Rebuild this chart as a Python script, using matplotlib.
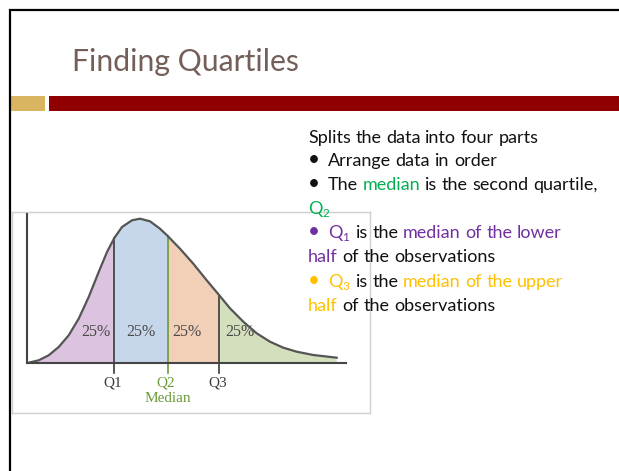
import matplotlib
matplotlib.use("Agg")
import matplotlib.pyplot as plt
from matplotlib.patches import Rectangle

# ---------------- data ----------------
curve_x = [1.7, 11.7, 21.7, 31.7, 41.7, 51.7, 61.7, 71.7, 80, 87.3, 95, 105,
           113, 123, 133, 140.7, 153, 166.3, 179.7, 192.3, 203, 216.3, 229.7,
           243, 256.3, 269.7, 286.3, 309.7]
curve_y = [0.3, 2.7, 7.7, 16, 27.7, 44.3, 66, 91, 111, 125, 136, 142.7,
           144.3, 141.7, 134.3, 127, 114.3, 99.3, 82.7, 67.7, 54.7, 41.3, 29.7,
           21.3, 15.3, 11.3, 8, 5.3]
quartile_x = [87.3, 140.7, 192.3]
quartile_labels = ["Q1", "Q2", "Q3"]
share_labels = ["25%", "25%", "25%", "25%"]
share_x = [69, 113.7, 159.7, 213]
median_label = "Median"

title = "Finding Quartiles"

W, H, DPI = 619, 471, 100
fig = plt.figure(figsize=(W / DPI, H / DPI), dpi=DPI)
fig.patch.set_facecolor("white")

# ---------------- chart ----------------
ax = fig.add_axes([12 / W, (H - 413) / H, 358 / W, 201 / H])
ax.set_zorder(1)
ax.set_xlim(-15, 343)
ax.set_ylim(-50, 151)
ax.set_xticks([])
ax.set_yticks([])
for s in ax.spines.values():
    s.set_color("#cfcfcf")
    s.set_linewidth(1.0)

fills = ["#dcc3df", "#c6d7eb", "#f2cfb7", "#d3dfbd"]
bounds = [curve_x[0]] + quartile_x + [curve_x[-1]]
for i in range(4):
    xs = [x for x in curve_x if bounds[i] <= x <= bounds[i + 1]]
    ys = [curve_y[curve_x.index(x)] for x in xs]
    ax.fill_between(xs, 0, ys, facecolor=fills[i], edgecolor="none", zorder=1)

ax.plot(curve_x, curve_y, color="#555555", lw=1.6, zorder=3,
        solid_joinstyle="round")

qcolors = ["#3a3a3a", "#6a9a3a", "#3a3a3a"]
for qx, lab, c in zip(quartile_x, quartile_labels, qcolors):
    top = curve_y[curve_x.index(qx)]
    ax.plot([qx, qx], [-10, top], color=c, lw=1.2, zorder=2)
    ax.text(qx - 2, -20, lab, ha="center", va="center", fontsize=11,
            family="Liberation Serif", color=c)
ax.text(quartile_x[1], -35, median_label, ha="center", va="center", fontsize=11,
        family="Liberation Serif", color="#6a9a3a")

for sx, lab in zip(share_x, share_labels):
    ax.text(sx, 31, lab, ha="center", va="center", fontsize=11.5,
            family="Liberation Serif", color="#4a4a4a", zorder=4)

# axes lines
ax.plot([0, 0], [0, 149], color="#444444", lw=1.5, zorder=4)
ax.plot([0, 319], [0, 0], color="#444444", lw=1.5, zorder=4)

# overlay axes in pixel coordinates (y down), drawn above the chart
ov = fig.add_axes([0, 0, 1, 1])
ov.set_zorder(2)
ov.set_xlim(0, W)
ov.set_ylim(H, 0)
ov.axis("off")

# slide border
ov.plot([10, 10, W + 5], [H + 5, 10, 10], color="black", lw=1.6,
        solid_joinstyle="miter", zorder=5)
# title bars
ov.add_patch(Rectangle((11, 96), 34, 15, facecolor="#d9b562", edgecolor="none"))
ov.add_patch(Rectangle((49, 96), W - 49, 15, facecolor="#900000", edgecolor="none"))
ov.text(72, 71, title, fontsize=21.7, color="#735f58", family="Lato",
        va="baseline", ha="left")

# ---------------- bullet text ----------------
renderer = fig.canvas.get_renderer()
FAM = "Lato"
FS = 13.0
BLACK = "#111111"
GREEN = "#00b050"
PURPLE = "#7030a0"
GOLD = "#ffc000"


def text_w(s, size):
    t = ov.text(0, 0, s, fontsize=size, family=FAM)
    w = t.get_window_extent(renderer).width
    t.remove()
    return w


space_w = text_w("a a", FS) - text_w("aa", FS)


def runs(x, y, items):
    for s, color, kind in items:
        if kind == "bullet":
            ov.text(x, y, "\u2022", fontsize=FS * 1.15, family=FAM, color=color,
                    va="baseline", ha="left", zorder=6)
            continue
        size = FS * 0.65 if kind == "sub" else FS
        dy = 3 if kind == "sub" else 0
        words = s.split(" ")
        for k, wd in enumerate(words):
            if k > 0:
                x += space_w
            if wd:
                t = ov.text(x, y + dy, wd, fontsize=size, family=FAM,
                            color=color, va="baseline", ha="left", zorder=6)
                x += t.get_window_extent(renderer).width
        if kind == "sub":
            x += 1.5


L = 308
T = 328
runs(L, 143, [("Splits the data into four parts", BLACK, "n")])
runs(L, 166, [("", BLACK, "bullet")])
runs(T, 166, [("Arrange data in order", BLACK, "n")])
runs(L, 190, [("", BLACK, "bullet")])
runs(T, 190, [("The ", BLACK, "n"), ("median", GREEN, "n"),
              (" is the second quartile,", BLACK, "n")])
runs(L, 214, [("Q", GREEN, "n"), ("2", GREEN, "sub")])
runs(L, 238, [("", PURPLE, "bullet")])
runs(T, 238, [("Q", PURPLE, "n"), ("1", PURPLE, "sub"), (" is the ", BLACK, "n"),
              ("median of the lower", PURPLE, "n")])
runs(L, 262, [("half", PURPLE, "n"), (" of the observations", BLACK, "n")])
runs(L, 287, [("", GOLD, "bullet")])
runs(T, 287, [("Q", GOLD, "n"), ("3", GOLD, "sub"), (" is the ", BLACK, "n"),
              ("median of the upper", GOLD, "n")])
runs(L, 311, [("half", GOLD, "n"), (" of the observations", BLACK, "n")])

fig.savefig("out.png", dpi=DPI)
